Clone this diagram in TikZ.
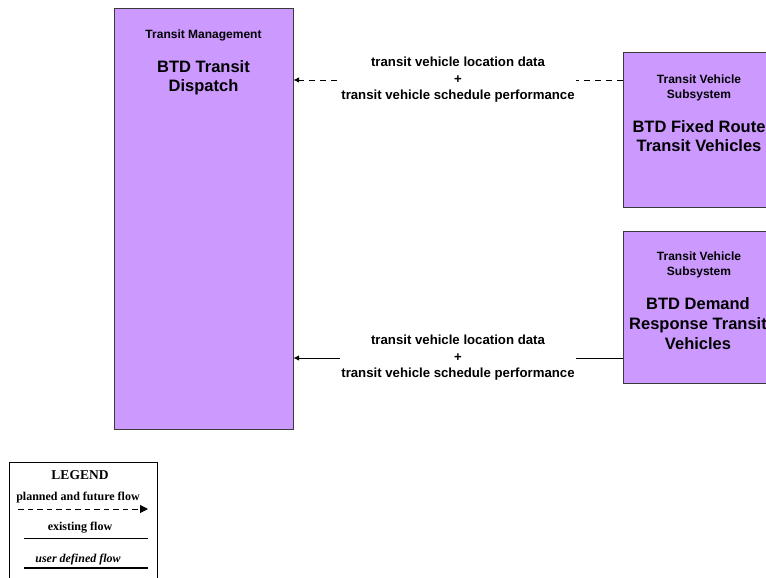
\documentclass[tikz,border=0pt]{standalone}
\usepackage{fontspec}
\setmainfont{Liberation Serif}
\newfontfamily\arialfont{Liberation Sans}
\usetikzlibrary{arrows.meta, positioning, calc}
\definecolor{boxfill}{HTML}{CC99FF}
\definecolor{boxline}{HTML}{3A3A3A}

\begin{document}
\begin{tikzpicture}[
            x=1pt, y=-1pt,
            system box/.style={draw=boxline, fill=boxfill, line width=1pt, rectangle, inner sep=0pt},
            class label/.style={font=\arialfont\bfseries\fontsize{12}{15}\selectfont, align=center, inner sep=0pt},
            name label/.style={font=\arialfont\bfseries\fontsize{16.5}{19.5}\selectfont, align=center, inner sep=0pt},
            flow label/.style={font=\arialfont\bfseries\fontsize{13.2}{16.5}\selectfont, align=center, fill=white, inner xsep=1pt, inner ysep=0pt},
            flow line/.style={line width=0.9pt, black, -{Latex[length=5.5pt, width=5.5pt]}},
            planned flow/.style={flow line, dash pattern=on 6pt off 5pt},
            legend text/.style={font=\bfseries\fontsize{12}{13}\selectfont, inner sep=0pt},
        ]

        % Page size
        \useasboundingbox (0,0) rectangle (766,578);

        % Systems
        \node[system box, minimum width=179pt, minimum height=420pt] (dispatch) at (203.5,219) {};
        \node[system box, minimum width=150pt, minimum height=154pt] (fixedroute) at (698,130) {};
        \node[system box, minimum width=150pt, minimum height=152pt] (demandresp) at (698,307) {};

        % System texts
        \node[class label] (dispatchclass) at (203.5,35) {Transit Management};
        \node[name label] (dispatchname) at (203.5,77.5) {BTD Transit\\Dispatch};
        \node[class label] (fixedclass) at (699,87.5) {Transit Vehicle\\Subsystem};
        \node[name label] (fixedname) at (699,136) {BTD Fixed Route\\Transit Vehicles};
        \node[class label] (demandclass) at (699,264.5) {Transit Vehicle\\Subsystem};
        \node[name label, font=\arialfont\bfseries\fontsize{16.5}{20}\selectfont] (demandname) at (698,324) {BTD Demand\\Response Transit\\Vehicles};

        % Flows
        \draw[planned flow] (fixedroute.west |- 0,80) -- node[flow label] (fixedflow) {transit vehicle location data\\+\\transit vehicle schedule performance} (dispatch.east |- 0,80);
        \draw[flow line] (demandresp.west |- 0,358) -- node[flow label] (demandflow) {transit vehicle location data\\+\\transit vehicle schedule performance} (dispatch.east |- 0,358);

        % Legend
        \draw[black, line width=1pt] (9,582) -- (9,462) -- (157,462) -- (157,582);
        \node[legend text, font=\bfseries\fontsize{13.5}{14}\selectfont] (legendtitle) at (80,475) {LEGEND};
        \node[legend text] (plannedtext) at (78,498) {planned and future flow};
        \coordinate (plannedstart) at (18,509);
        \coordinate (plannedend) at (148,509);
        \draw[black, line width=1pt, dash pattern=on 5.5pt off 4pt, -{Triangle[length=8pt, width=8pt]}] (plannedstart) -- (plannedend);
        \node[legend text] (existingtext) at (80,528) {existing flow};
        \coordinate (existingstart) at (24,538);
        \coordinate (existingend) at (148,538);
        \draw[black, line width=1pt] (existingstart) -- (existingend);
        \node[legend text, font=\bfseries\itshape\fontsize{12}{13}\selectfont] (usertext) at (78,560) {user defined flow};
        \coordinate (userstart) at (24,568);
        \coordinate (userend) at (148,568);
        \draw[black, line width=2pt] (userstart) -- (userend);

        \end{tikzpicture}
\end{document}
